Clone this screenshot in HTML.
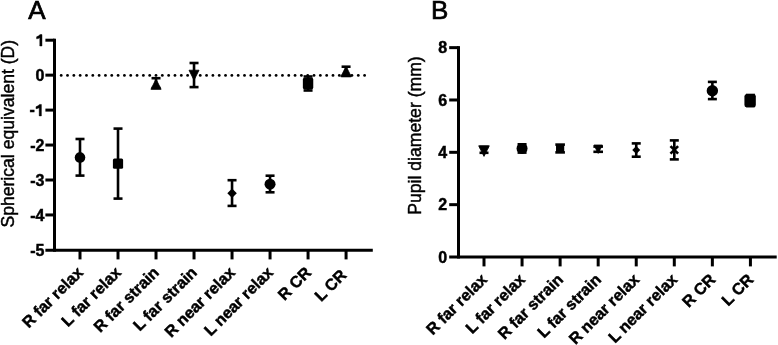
<!DOCTYPE html>
<html><head><meta charset="utf-8"><style>
html,body{margin:0;padding:0;background:#fff;}
svg{display:block;filter:blur(0.3px);font-family:"Liberation Sans",sans-serif;}
</style></head><body>
<svg width="778" height="345" viewBox="0 0 778 345">
<rect width="778" height="345" fill="#fff"/>
<text x="28.20" y="19.20" font-size="26" font-weight="normal" text-anchor="start" stroke="#000" stroke-width="0.7">A</text>
<line x1="54.50" y1="38.70" x2="54.50" y2="251.70" stroke="#000" stroke-width="3" stroke-linecap="butt"/>
<line x1="45.40" y1="40.20" x2="54.50" y2="40.20" stroke="#000" stroke-width="3" stroke-linecap="butt"/>
<line x1="45.40" y1="75.15" x2="54.50" y2="75.15" stroke="#000" stroke-width="3" stroke-linecap="butt"/>
<line x1="45.40" y1="110.10" x2="54.50" y2="110.10" stroke="#000" stroke-width="3" stroke-linecap="butt"/>
<line x1="45.40" y1="145.05" x2="54.50" y2="145.05" stroke="#000" stroke-width="3" stroke-linecap="butt"/>
<line x1="45.40" y1="180.00" x2="54.50" y2="180.00" stroke="#000" stroke-width="3" stroke-linecap="butt"/>
<line x1="45.40" y1="214.95" x2="54.50" y2="214.95" stroke="#000" stroke-width="3" stroke-linecap="butt"/>
<line x1="45.40" y1="250.20" x2="372.80" y2="250.20" stroke="#000" stroke-width="3" stroke-linecap="butt"/>
<line x1="80.00" y1="250.20" x2="80.00" y2="259.40" stroke="#000" stroke-width="3" stroke-linecap="butt"/>
<line x1="118.01" y1="250.20" x2="118.01" y2="259.40" stroke="#000" stroke-width="3" stroke-linecap="butt"/>
<line x1="156.02" y1="250.20" x2="156.02" y2="259.40" stroke="#000" stroke-width="3" stroke-linecap="butt"/>
<line x1="194.03" y1="250.20" x2="194.03" y2="259.40" stroke="#000" stroke-width="3" stroke-linecap="butt"/>
<line x1="232.04" y1="250.20" x2="232.04" y2="259.40" stroke="#000" stroke-width="3" stroke-linecap="butt"/>
<line x1="270.05" y1="250.20" x2="270.05" y2="259.40" stroke="#000" stroke-width="3" stroke-linecap="butt"/>
<line x1="308.06" y1="250.20" x2="308.06" y2="259.40" stroke="#000" stroke-width="3" stroke-linecap="butt"/>
<line x1="346.07" y1="250.20" x2="346.07" y2="259.40" stroke="#000" stroke-width="3" stroke-linecap="butt"/>
<circle cx="61.20" cy="75.4" r="1.4" fill="#000"/>
<circle cx="67.52" cy="75.4" r="1.4" fill="#000"/>
<circle cx="73.84" cy="75.4" r="1.4" fill="#000"/>
<circle cx="80.16" cy="75.4" r="1.4" fill="#000"/>
<circle cx="86.48" cy="75.4" r="1.4" fill="#000"/>
<circle cx="92.80" cy="75.4" r="1.4" fill="#000"/>
<circle cx="99.12" cy="75.4" r="1.4" fill="#000"/>
<circle cx="105.45" cy="75.4" r="1.4" fill="#000"/>
<circle cx="111.77" cy="75.4" r="1.4" fill="#000"/>
<circle cx="118.09" cy="75.4" r="1.4" fill="#000"/>
<circle cx="124.41" cy="75.4" r="1.4" fill="#000"/>
<circle cx="130.73" cy="75.4" r="1.4" fill="#000"/>
<circle cx="137.05" cy="75.4" r="1.4" fill="#000"/>
<circle cx="143.37" cy="75.4" r="1.4" fill="#000"/>
<circle cx="149.69" cy="75.4" r="1.4" fill="#000"/>
<circle cx="156.01" cy="75.4" r="1.4" fill="#000"/>
<circle cx="162.33" cy="75.4" r="1.4" fill="#000"/>
<circle cx="168.65" cy="75.4" r="1.4" fill="#000"/>
<circle cx="174.98" cy="75.4" r="1.4" fill="#000"/>
<circle cx="181.30" cy="75.4" r="1.4" fill="#000"/>
<circle cx="187.62" cy="75.4" r="1.4" fill="#000"/>
<circle cx="193.94" cy="75.4" r="1.4" fill="#000"/>
<circle cx="200.26" cy="75.4" r="1.4" fill="#000"/>
<circle cx="206.58" cy="75.4" r="1.4" fill="#000"/>
<circle cx="212.90" cy="75.4" r="1.4" fill="#000"/>
<circle cx="219.22" cy="75.4" r="1.4" fill="#000"/>
<circle cx="225.54" cy="75.4" r="1.4" fill="#000"/>
<circle cx="231.86" cy="75.4" r="1.4" fill="#000"/>
<circle cx="238.18" cy="75.4" r="1.4" fill="#000"/>
<circle cx="244.50" cy="75.4" r="1.4" fill="#000"/>
<circle cx="250.83" cy="75.4" r="1.4" fill="#000"/>
<circle cx="257.15" cy="75.4" r="1.4" fill="#000"/>
<circle cx="263.47" cy="75.4" r="1.4" fill="#000"/>
<circle cx="269.79" cy="75.4" r="1.4" fill="#000"/>
<circle cx="276.11" cy="75.4" r="1.4" fill="#000"/>
<circle cx="282.43" cy="75.4" r="1.4" fill="#000"/>
<circle cx="288.75" cy="75.4" r="1.4" fill="#000"/>
<circle cx="295.07" cy="75.4" r="1.4" fill="#000"/>
<circle cx="301.39" cy="75.4" r="1.4" fill="#000"/>
<circle cx="307.71" cy="75.4" r="1.4" fill="#000"/>
<circle cx="314.03" cy="75.4" r="1.4" fill="#000"/>
<circle cx="320.35" cy="75.4" r="1.4" fill="#000"/>
<circle cx="326.68" cy="75.4" r="1.4" fill="#000"/>
<circle cx="333.00" cy="75.4" r="1.4" fill="#000"/>
<circle cx="339.32" cy="75.4" r="1.4" fill="#000"/>
<circle cx="345.64" cy="75.4" r="1.4" fill="#000"/>
<circle cx="351.96" cy="75.4" r="1.4" fill="#000"/>
<circle cx="358.28" cy="75.4" r="1.4" fill="#000"/>
<circle cx="364.60" cy="75.4" r="1.4" fill="#000"/>
<path transform="translate(35.50 46.00) scale(0.007812 -0.007812)" d="M830 0L549 0L549 1059Q380 925 139 918L139 1171Q430 1270 589 1466L830 1466Z" fill="#000" stroke="#000" stroke-width="57.6"/>
<text x="44.40" y="80.95" font-size="16" font-weight="bold" text-anchor="end" stroke="#000" stroke-width="0.45">0</text>
<path transform="translate(34.90 115.90) scale(0.007812 -0.007812)" d="M830 0L549 0L549 1059Q380 925 139 918L139 1171Q430 1270 589 1466L830 1466Z" fill="#000" stroke="#000" stroke-width="57.6"/>
<text x="34.90" y="115.40" font-size="16" font-weight="bold" text-anchor="end" stroke="#000" stroke-width="0.45">-</text>
<text x="44.40" y="150.85" font-size="16" font-weight="bold" text-anchor="end" stroke="#000" stroke-width="0.45">-2</text>
<text x="44.40" y="185.80" font-size="16" font-weight="bold" text-anchor="end" stroke="#000" stroke-width="0.45">-3</text>
<text x="44.40" y="220.75" font-size="16" font-weight="bold" text-anchor="end" stroke="#000" stroke-width="0.45">-4</text>
<text x="44.40" y="255.70" font-size="16" font-weight="bold" text-anchor="end" stroke="#000" stroke-width="0.45">-5</text>
<text x="14.00" y="133.70" font-size="17.6" font-weight="normal" text-anchor="middle" transform="rotate(-90 14.00 133.70)" stroke="#000" stroke-width="0.45">Spherical equivalent (D)</text>
<text x="84.00" y="273.50" font-size="16" font-weight="bold" text-anchor="end" transform="rotate(-45 84.00 273.50)" stroke="#000" stroke-width="0.45">R far relax</text>
<text x="122.01" y="273.50" font-size="16" font-weight="bold" text-anchor="end" transform="rotate(-45 122.01 273.50)" stroke="#000" stroke-width="0.45">L far relax</text>
<text x="160.02" y="273.50" font-size="16" font-weight="bold" text-anchor="end" transform="rotate(-45 160.02 273.50)" stroke="#000" stroke-width="0.45">R far strain</text>
<text x="198.03" y="273.50" font-size="16" font-weight="bold" text-anchor="end" transform="rotate(-45 198.03 273.50)" stroke="#000" stroke-width="0.45">L far strain</text>
<text x="236.04" y="273.50" font-size="16" font-weight="bold" text-anchor="end" transform="rotate(-45 236.04 273.50)" stroke="#000" stroke-width="0.45">R near relax</text>
<text x="274.05" y="273.50" font-size="16" font-weight="bold" text-anchor="end" transform="rotate(-45 274.05 273.50)" stroke="#000" stroke-width="0.45">L near relax</text>
<text x="312.06" y="273.50" font-size="16" font-weight="bold" text-anchor="end" transform="rotate(-45 312.06 273.50)" stroke="#000" stroke-width="0.45">R CR</text>
<text x="347.47" y="276.10" font-size="16" font-weight="bold" text-anchor="end" transform="rotate(-45 347.47 276.10)" stroke="#000" stroke-width="0.45">L CR</text>
<line x1="80.00" y1="139.00" x2="80.00" y2="175.60" stroke="#000" stroke-width="2.6" stroke-linecap="butt"/>
<line x1="75.50" y1="139.00" x2="84.50" y2="139.00" stroke="#000" stroke-width="2.6" stroke-linecap="butt"/>
<line x1="75.50" y1="175.60" x2="84.50" y2="175.60" stroke="#000" stroke-width="2.6" stroke-linecap="butt"/>
<circle cx="80.00" cy="157.40" r="5.30" fill="#000"/>
<line x1="118.01" y1="128.60" x2="118.01" y2="198.60" stroke="#000" stroke-width="2.6" stroke-linecap="butt"/>
<line x1="113.51" y1="128.60" x2="122.51" y2="128.60" stroke="#000" stroke-width="2.6" stroke-linecap="butt"/>
<line x1="113.51" y1="198.60" x2="122.51" y2="198.60" stroke="#000" stroke-width="2.6" stroke-linecap="butt"/>
<rect x="112.91" y="158.50" width="10.20" height="10.20" rx="1.5" fill="#000"/>
<line x1="156.02" y1="78.20" x2="156.02" y2="88.00" stroke="#000" stroke-width="2.6" stroke-linecap="butt"/>
<line x1="151.52" y1="78.20" x2="160.52" y2="78.20" stroke="#000" stroke-width="2.6" stroke-linecap="butt"/>
<line x1="151.52" y1="88.00" x2="160.52" y2="88.00" stroke="#000" stroke-width="2.6" stroke-linecap="butt"/>
<polygon points="156.02,79.10 161.12,89.30 150.92,89.30" fill="#000" stroke="#000" stroke-width="0.8" stroke-linejoin="round"/>
<line x1="194.03" y1="63.00" x2="194.03" y2="87.10" stroke="#000" stroke-width="2.6" stroke-linecap="butt"/>
<line x1="189.53" y1="63.00" x2="198.53" y2="63.00" stroke="#000" stroke-width="2.6" stroke-linecap="butt"/>
<line x1="189.53" y1="87.10" x2="198.53" y2="87.10" stroke="#000" stroke-width="2.6" stroke-linecap="butt"/>
<polygon points="189.03,70.20 199.03,70.20 194.03,80.20" fill="#000" stroke="#000" stroke-width="0.8" stroke-linejoin="round"/>
<line x1="232.04" y1="180.20" x2="232.04" y2="205.90" stroke="#000" stroke-width="2.6" stroke-linecap="butt"/>
<line x1="227.54" y1="180.20" x2="236.54" y2="180.20" stroke="#000" stroke-width="2.6" stroke-linecap="butt"/>
<line x1="227.54" y1="205.90" x2="236.54" y2="205.90" stroke="#000" stroke-width="2.6" stroke-linecap="butt"/>
<polygon points="232.04,188.55 236.79,193.30 232.04,198.05 227.29,193.30" fill="#000"/>
<line x1="270.05" y1="175.70" x2="270.05" y2="192.30" stroke="#000" stroke-width="2.6" stroke-linecap="butt"/>
<line x1="265.55" y1="175.70" x2="274.55" y2="175.70" stroke="#000" stroke-width="2.6" stroke-linecap="butt"/>
<line x1="265.55" y1="192.30" x2="274.55" y2="192.30" stroke="#000" stroke-width="2.6" stroke-linecap="butt"/>
<circle cx="270.05" cy="184.20" r="5.50" fill="#000"/>
<line x1="308.06" y1="76.50" x2="308.06" y2="90.50" stroke="#000" stroke-width="2.6" stroke-linecap="butt"/>
<line x1="303.56" y1="76.50" x2="312.56" y2="76.50" stroke="#000" stroke-width="2.6" stroke-linecap="butt"/>
<line x1="303.56" y1="90.50" x2="312.56" y2="90.50" stroke="#000" stroke-width="2.6" stroke-linecap="butt"/>
<rect x="302.86" y="77.6" width="10.4" height="12" rx="2" fill="#000"/>
<line x1="346.07" y1="66.70" x2="346.07" y2="75.80" stroke="#000" stroke-width="2.6" stroke-linecap="butt"/>
<line x1="341.57" y1="66.70" x2="350.57" y2="66.70" stroke="#000" stroke-width="2.6" stroke-linecap="butt"/>
<line x1="341.57" y1="75.80" x2="350.57" y2="75.80" stroke="#000" stroke-width="2.6" stroke-linecap="butt"/>
<polygon points="346.07,66.25 351.32,76.75 340.82,76.75" fill="#000" stroke="#000" stroke-width="0.8" stroke-linejoin="round"/>
<text x="430.90" y="19.20" font-size="26" font-weight="normal" text-anchor="start" stroke="#000" stroke-width="0.7">B</text>
<line x1="458.50" y1="46.14" x2="458.50" y2="258.50" stroke="#000" stroke-width="3" stroke-linecap="butt"/>
<line x1="449.20" y1="47.64" x2="458.50" y2="47.64" stroke="#000" stroke-width="3" stroke-linecap="butt"/>
<line x1="449.20" y1="99.98" x2="458.50" y2="99.98" stroke="#000" stroke-width="3" stroke-linecap="butt"/>
<line x1="449.20" y1="152.32" x2="458.50" y2="152.32" stroke="#000" stroke-width="3" stroke-linecap="butt"/>
<line x1="449.20" y1="204.66" x2="458.50" y2="204.66" stroke="#000" stroke-width="3" stroke-linecap="butt"/>
<line x1="449.20" y1="257.00" x2="776.70" y2="257.00" stroke="#000" stroke-width="3" stroke-linecap="butt"/>
<line x1="484.00" y1="257.00" x2="484.00" y2="266.40" stroke="#000" stroke-width="3" stroke-linecap="butt"/>
<line x1="522.06" y1="257.00" x2="522.06" y2="266.40" stroke="#000" stroke-width="3" stroke-linecap="butt"/>
<line x1="560.12" y1="257.00" x2="560.12" y2="266.40" stroke="#000" stroke-width="3" stroke-linecap="butt"/>
<line x1="598.18" y1="257.00" x2="598.18" y2="266.40" stroke="#000" stroke-width="3" stroke-linecap="butt"/>
<line x1="636.24" y1="257.00" x2="636.24" y2="266.40" stroke="#000" stroke-width="3" stroke-linecap="butt"/>
<line x1="674.30" y1="257.00" x2="674.30" y2="266.40" stroke="#000" stroke-width="3" stroke-linecap="butt"/>
<line x1="712.36" y1="257.00" x2="712.36" y2="266.40" stroke="#000" stroke-width="3" stroke-linecap="butt"/>
<line x1="750.42" y1="257.00" x2="750.42" y2="266.40" stroke="#000" stroke-width="3" stroke-linecap="butt"/>
<text x="447.20" y="53.44" font-size="16" font-weight="bold" text-anchor="end" stroke="#000" stroke-width="0.45">8</text>
<text x="447.20" y="105.78" font-size="16" font-weight="bold" text-anchor="end" stroke="#000" stroke-width="0.45">6</text>
<text x="447.20" y="158.12" font-size="16" font-weight="bold" text-anchor="end" stroke="#000" stroke-width="0.45">4</text>
<text x="447.20" y="210.46" font-size="16" font-weight="bold" text-anchor="end" stroke="#000" stroke-width="0.45">2</text>
<text x="447.20" y="262.80" font-size="16" font-weight="bold" text-anchor="end" stroke="#000" stroke-width="0.45">0</text>
<text x="421.00" y="135.50" font-size="17.6" font-weight="normal" text-anchor="middle" transform="rotate(-90 421.00 135.50)" stroke="#000" stroke-width="0.45">Pupil diameter (mm)</text>
<text x="488.00" y="280.50" font-size="16" font-weight="bold" text-anchor="end" transform="rotate(-45 488.00 280.50)" stroke="#000" stroke-width="0.45">R far relax</text>
<text x="526.06" y="280.50" font-size="16" font-weight="bold" text-anchor="end" transform="rotate(-45 526.06 280.50)" stroke="#000" stroke-width="0.45">L far relax</text>
<text x="564.12" y="280.50" font-size="16" font-weight="bold" text-anchor="end" transform="rotate(-45 564.12 280.50)" stroke="#000" stroke-width="0.45">R far strain</text>
<text x="602.18" y="280.50" font-size="16" font-weight="bold" text-anchor="end" transform="rotate(-45 602.18 280.50)" stroke="#000" stroke-width="0.45">L far strain</text>
<text x="640.24" y="280.50" font-size="16" font-weight="bold" text-anchor="end" transform="rotate(-45 640.24 280.50)" stroke="#000" stroke-width="0.45">R near relax</text>
<text x="678.30" y="280.50" font-size="16" font-weight="bold" text-anchor="end" transform="rotate(-45 678.30 280.50)" stroke="#000" stroke-width="0.45">L near relax</text>
<text x="716.36" y="280.50" font-size="16" font-weight="bold" text-anchor="end" transform="rotate(-45 716.36 280.50)" stroke="#000" stroke-width="0.45">R CR</text>
<text x="754.42" y="280.50" font-size="16" font-weight="bold" text-anchor="end" transform="rotate(-45 754.42 280.50)" stroke="#000" stroke-width="0.45">L CR</text>
<line x1="484.00" y1="147.00" x2="484.00" y2="152.80" stroke="#000" stroke-width="2.6" stroke-linecap="butt"/>
<line x1="479.50" y1="147.00" x2="488.50" y2="147.00" stroke="#000" stroke-width="2.6" stroke-linecap="butt"/>
<line x1="479.50" y1="152.80" x2="488.50" y2="152.80" stroke="#000" stroke-width="2.6" stroke-linecap="butt"/>
<polygon points="478.70,145.80 489.30,145.80 484.00,156.40" fill="#000" stroke="#000" stroke-width="0.8" stroke-linejoin="round"/>
<line x1="522.06" y1="144.30" x2="522.06" y2="152.60" stroke="#000" stroke-width="2.6" stroke-linecap="butt"/>
<line x1="517.56" y1="144.30" x2="526.56" y2="144.30" stroke="#000" stroke-width="2.6" stroke-linecap="butt"/>
<line x1="517.56" y1="152.60" x2="526.56" y2="152.60" stroke="#000" stroke-width="2.6" stroke-linecap="butt"/>
<circle cx="522.06" cy="148.40" r="5.50" fill="#000"/>
<line x1="560.12" y1="144.60" x2="560.12" y2="152.40" stroke="#000" stroke-width="2.6" stroke-linecap="butt"/>
<line x1="555.32" y1="144.60" x2="564.92" y2="144.60" stroke="#000" stroke-width="2.6" stroke-linecap="butt"/>
<line x1="555.32" y1="152.40" x2="564.92" y2="152.40" stroke="#000" stroke-width="2.6" stroke-linecap="butt"/>
<rect x="556.02" y="144.6" width="8.2" height="7.8" fill="#000"/>
<line x1="598.18" y1="146.60" x2="598.18" y2="151.80" stroke="#000" stroke-width="2.6" stroke-linecap="butt"/>
<line x1="593.38" y1="146.60" x2="602.98" y2="146.60" stroke="#000" stroke-width="2.6" stroke-linecap="butt"/>
<line x1="593.38" y1="151.80" x2="602.98" y2="151.80" stroke="#000" stroke-width="2.6" stroke-linecap="butt"/>
<polygon points="593.98,145.00 602.38,145.00 598.18,153.40" fill="#000" stroke="#000" stroke-width="0.8" stroke-linejoin="round"/>
<line x1="636.24" y1="143.40" x2="636.24" y2="156.70" stroke="#000" stroke-width="2.6" stroke-linecap="butt"/>
<line x1="631.74" y1="143.40" x2="640.74" y2="143.40" stroke="#000" stroke-width="2.6" stroke-linecap="butt"/>
<line x1="631.74" y1="156.70" x2="640.74" y2="156.70" stroke="#000" stroke-width="2.6" stroke-linecap="butt"/>
<polygon points="636.24,146.10 640.24,150.10 636.24,154.10 632.24,150.10" fill="#000"/>
<line x1="674.30" y1="140.40" x2="674.30" y2="159.40" stroke="#000" stroke-width="2.6" stroke-linecap="butt"/>
<line x1="669.80" y1="140.40" x2="678.80" y2="140.40" stroke="#000" stroke-width="2.6" stroke-linecap="butt"/>
<line x1="669.80" y1="159.40" x2="678.80" y2="159.40" stroke="#000" stroke-width="2.6" stroke-linecap="butt"/>
<line x1="670.50" y1="146.10" x2="678.10" y2="153.70" stroke="#000" stroke-width="2.6" stroke-linecap="butt"/>
<line x1="670.50" y1="153.70" x2="678.10" y2="146.10" stroke="#000" stroke-width="2.6" stroke-linecap="butt"/>
<line x1="712.36" y1="81.90" x2="712.36" y2="99.10" stroke="#000" stroke-width="2.6" stroke-linecap="butt"/>
<line x1="707.86" y1="81.90" x2="716.86" y2="81.90" stroke="#000" stroke-width="2.6" stroke-linecap="butt"/>
<line x1="707.86" y1="99.10" x2="716.86" y2="99.10" stroke="#000" stroke-width="2.6" stroke-linecap="butt"/>
<circle cx="712.36" cy="90.80" r="5.70" fill="#000"/>
<line x1="750.42" y1="95.00" x2="750.42" y2="106.00" stroke="#000" stroke-width="2.6" stroke-linecap="butt"/>
<line x1="745.92" y1="95.00" x2="754.92" y2="95.00" stroke="#000" stroke-width="2.6" stroke-linecap="butt"/>
<line x1="745.92" y1="106.00" x2="754.92" y2="106.00" stroke="#000" stroke-width="2.6" stroke-linecap="butt"/>
<rect x="744.42" y="94.3" width="11.4" height="13" rx="2.2" fill="#000"/>
</svg>
</body></html>
